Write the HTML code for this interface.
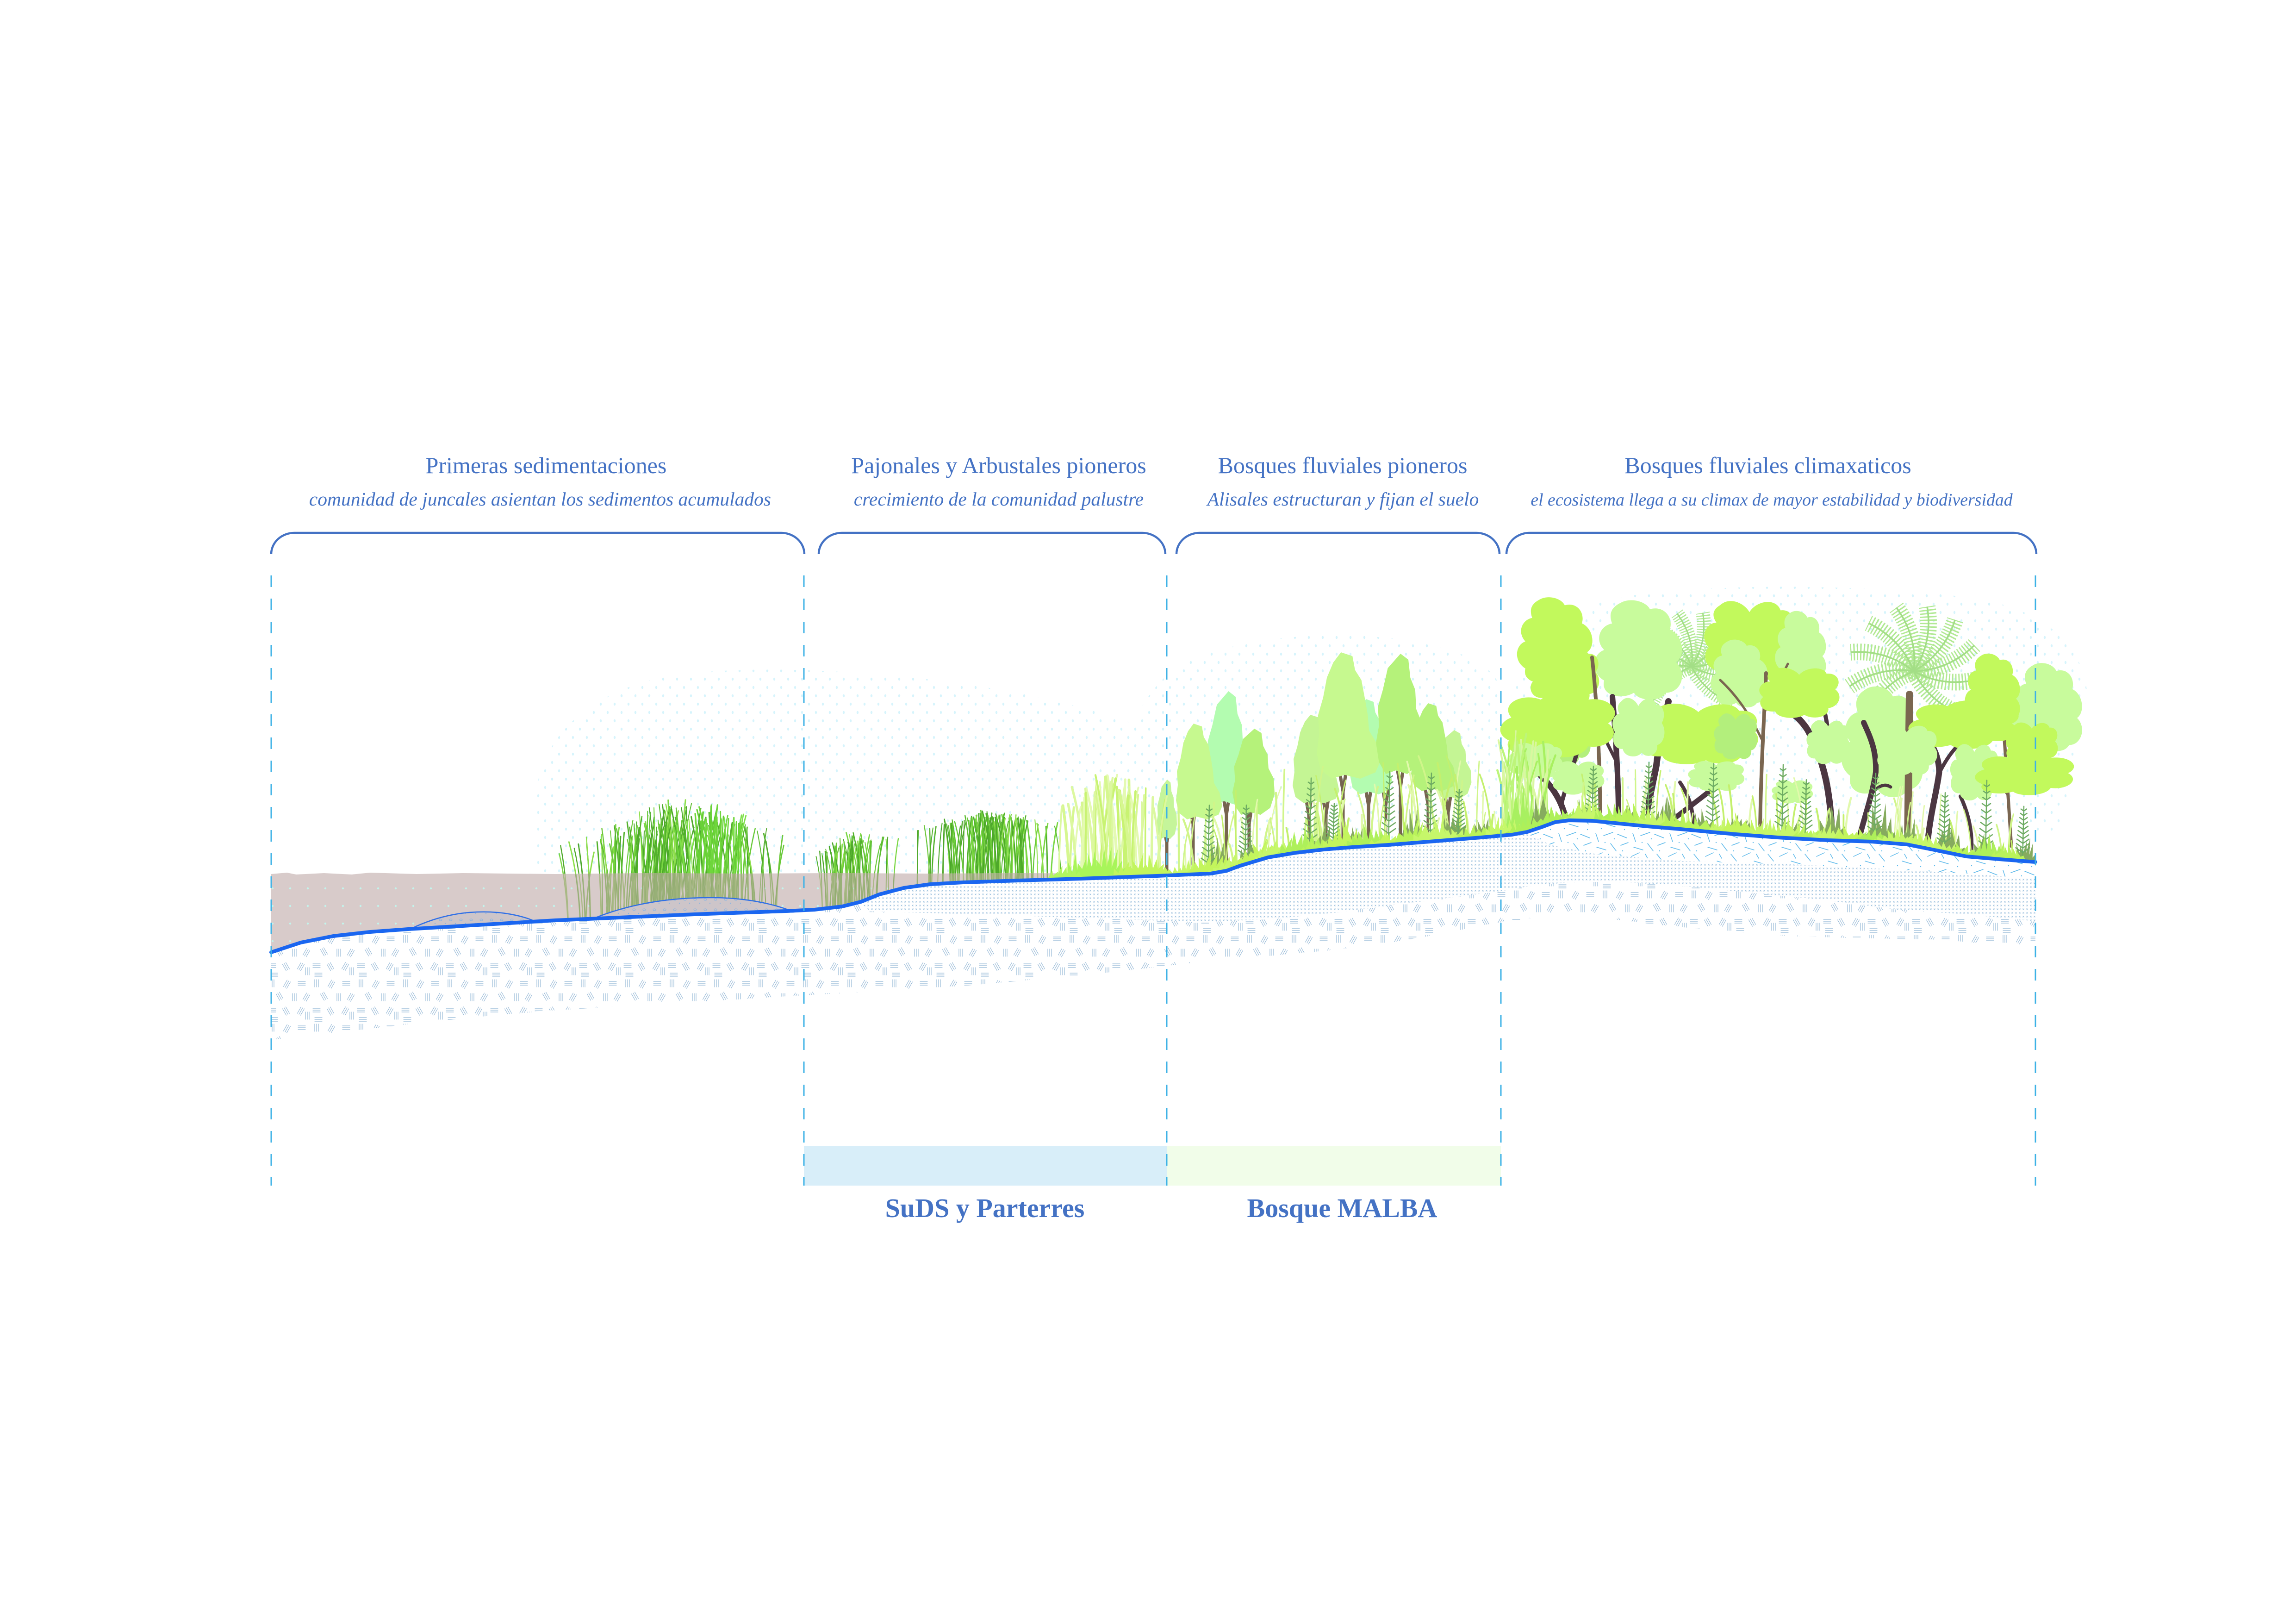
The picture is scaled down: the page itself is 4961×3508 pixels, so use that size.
<!DOCTYPE html>
<html><head><meta charset="utf-8">
<style>
html,body{margin:0;padding:0;background:#fff;width:4961px;height:3508px;overflow:hidden}
svg{display:block}
.t{font-family:"Liberation Serif","Times New Roman",serif;fill:#4472c4}
</style></head><body>
<svg xmlns="http://www.w3.org/2000/svg" width="4961" height="3508" viewBox="0 0 4961 3508">
<defs>
<pattern id="hatch" width="96" height="96" patternUnits="userSpaceOnUse">
<path d="M8,4V20M12,4V20M16,4V20 M36.5,19L44.5,5M40,21L48,7M43.5,23L51.5,9 M68,8H84M68,12H84M68,16H84 M20.5,35L28.5,49M24,33L32,47M27.5,31L35.5,45 M56,34V50M60,34V50M64,34V50 M78.5,47L86.5,33M82,49L90,35M85.5,51L93.5,37 M4,66H20M4,70H20M4,74H20 M34.5,67L42.5,81M38,65L46,79M41.5,63L49.5,77 M66.5,77L74.5,63M70,79L78,65M73.5,81L81.5,67 M84,74V90M88,74V90M92,74V90 M8,86H24M8,90H24M8,94H24" stroke="#92b6d5" stroke-width="1.15" fill="none" stroke-linecap="round"/>
</pattern>
<pattern id="xpat" width="8" height="8" patternUnits="userSpaceOnUse">
<path d="M2.5,2.5L5.5,5.5M5.5,2.5L2.5,5.5" stroke="#9fc2de" stroke-width="1" fill="none"/>
</pattern>
<pattern id="dpat" width="80" height="80" patternUnits="userSpaceOnUse">
<path d="M5,10L22,2M30,20L50,26M60,5L72,20M8,40L14,58M25,45L45,38M55,42L75,50M10,70L30,76M40,62L52,78M62,66L78,60M35,5L40,14" stroke="#5db9ea" stroke-width="1.5" fill="none" stroke-linecap="round"/>
<circle cx="20" cy="30" r="1.2" fill="#5db9ea"/><circle cx="48" cy="52" r="1.2" fill="#5db9ea"/><circle cx="70" cy="32" r="1.2" fill="#5db9ea"/><circle cx="28" cy="60" r="1.2" fill="#5db9ea"/><circle cx="66" cy="78" r="1.2" fill="#5db9ea"/>
</pattern>
<pattern id="sky" width="30" height="36" patternUnits="userSpaceOnUse">
<ellipse cx="8" cy="9" rx="2.2" ry="3.2" fill="#d6f4fc"/><ellipse cx="23" cy="27" rx="2.2" ry="3.2" fill="#d6f4fc"/>
</pattern>
<pattern id="wdots" width="38" height="38" patternUnits="userSpaceOnUse">
<circle cx="19" cy="19" r="2.2" fill="#c2f4ec"/>
</pattern>
<pattern id="mdots" width="22" height="22" patternUnits="userSpaceOnUse">
<ellipse cx="6" cy="7" rx="3" ry="2" stroke="#86b4e4" stroke-width="1" fill="none"/><circle cx="16" cy="15" r="1.2" fill="#86b4e4"/>
</pattern>
<clipPath id="wclip"><path d="M586,1888 L620,1885 L640,1889 L700,1886 L760,1889 L800,1885 L900,1888 L1000,1886 L1200,1888 L1400,1886 L1600,1887 L1800,1886 L2000,1887 L2200,1886 L2400,1887 L2640,1887 L2640,1900 L1900,1980 L586,2080 Z"/></clipPath>
<path id="col1" d="M38,0 L56,3 L60,14 L70,22 L76,38 L80,50 L82,62 L94,72 L100,86 L92,95 L68,100 L44,97 L24,100 L6,93 L0,80 L4,64 L2,50 L10,36 L16,20 L26,8 Z"/>
<path id="col2" d="M52,0 L68,5 L72,20 L82,30 L84,46 L96,58 L98,76 L88,92 L66,100 L42,97 L22,100 L8,90 L2,74 L8,60 L6,44 L16,30 L26,12 Z"/>
<path id="blA" d="M20,10 C30,0 45,8 50,18 C58,4 78,2 82,16 C96,14 100,34 92,44 C102,56 96,76 84,78 C86,94 66,100 56,90 C46,100 24,96 22,84 C6,86 0,68 8,58 C-2,46 6,30 16,30 C10,20 14,14 20,10 Z"/>
<path id="blB" d="M30,4 C40,-2 56,2 60,10 C74,6 84,18 80,30 C94,36 96,56 86,62 C98,72 92,92 76,92 C70,102 48,100 44,92 C30,100 10,94 14,80 C0,72 2,54 14,50 C4,40 10,26 22,24 C18,14 22,8 30,4 Z"/>
<path id="blC" d="M10,40 C0,20 20,5 35,15 C45,0 70,0 75,15 C95,10 105,35 92,48 C104,62 92,85 75,80 C70,98 45,100 38,88 C22,98 2,88 8,72 C-4,62 0,46 10,40 Z"/>
<path id="frond" d="M0,0 Q30,-55 14,-118" fill="none" stroke-width="30" stroke-dasharray="2.5 3.5"/>
<path id="rib" d="M0,0 Q30,-55 14,-118" fill="none" stroke-width="3"/>
</defs>

<rect width="4961" height="3508" fill="#ffffff"/>

<!-- faint sky dots -->
<path d="M1150,1990 L1160,1700 C1180,1580 1280,1500 1420,1465 C1600,1430 1900,1450 2100,1480 C2300,1510 2480,1560 2560,1620 L2600,1890 Z" fill="url(#sky)"/>
<path d="M2380,1900 C2380,1700 2440,1500 2560,1430 C2700,1370 2900,1360 3050,1385 C3150,1400 3243,1440 3243,1500 L3243,1830 Z" fill="url(#sky)"/>
<path d="M3243,1700 C3250,1450 3300,1330 3500,1290 C3700,1260 4000,1260 4250,1290 C4400,1310 4500,1380 4510,1500 L4450,1800 Z" fill="url(#sky)"/>

<!-- pioneer trunks -->
<g fill="none" stroke="#76654f" stroke-width="7" stroke-linecap="round" stroke-linejoin="round">
<path d="M2521,1893 L2521,1820 L2515,1790 M2521,1820 L2527,1790"/>
<path d="M2578,1890 L2578,1780 L2571,1740 M2578,1780 L2584,1740"/>
<path d="M2650,1882 L2650,1760 L2643,1720 M2650,1760 L2656,1720"/>
<path d="M2699,1868 L2699,1780 L2692,1740 M2699,1780 L2705,1740"/>
<path d="M2828,1845 L2828,1760 L2821,1720 M2828,1760 L2834,1720"/>
<path d="M2865,1840 L2865,1760 L2858,1720 M2865,1760 L2871,1720"/>
<path d="M2902,1835 L2902,1710 L2895,1670 M2902,1710 L2908,1670"/>
<path d="M2957,1831 L2957,1740 L2950,1700 M2957,1740 L2963,1700"/>
<path d="M2994,1828 L2994,1740 L2987,1700 M2994,1740 L3000,1700"/>
<path d="M3026,1826 L3026,1700 L3019,1660 M3026,1700 L3032,1660"/>
<path d="M3086,1821 L3086,1740 L3079,1700 M3086,1740 L3092,1700"/>
<path d="M3129,1818 L3129,1755 L3122,1715 M3129,1755 L3135,1715"/>
</g>
<!-- pioneer canopies -->
<use href="#col2" transform="translate(2604,1493) scale(0.97,2.45)" fill="#b3fcb0"/>
<use href="#col1" transform="translate(2917,1510) scale(0.91,2.06)" fill="#b3fcb0"/>
<use href="#col2" transform="translate(3100,1577) scale(0.81,1.49)" fill="#c4f594"/>
<use href="#col1" transform="translate(2793,1544) scale(1.01,1.91)" fill="#c4f594"/>
<use href="#col2" transform="translate(2498,1684) scale(0.46,1.28)" fill="#c5f59a"/>
<use href="#col1" transform="translate(2541,1563) scale(1,2.07)" fill="#c6f98f"/>
<use href="#col2" transform="translate(2661,1574) scale(0.95,1.86)" fill="#b5f27a"/>
<use href="#col1" transform="translate(2845,1409) scale(1.38,2.73)" fill="#c6f98f"/>
<use href="#col2" transform="translate(2971,1412) scale(1.06,2.6)" fill="#b5f27a"/>
<use href="#col1" transform="translate(3049,1519) scale(0.97,1.9)" fill="#b5f27a"/>

<!-- palms (feathery) -->
<g stroke="#b2e994">
<g transform="translate(3655,1440)">
<use href="#frond" transform="rotate(-110)"/><use href="#frond" transform="rotate(-80)"/><use href="#frond" transform="rotate(-50)"/><use href="#frond" transform="rotate(-22)"/><use href="#frond" transform="rotate(5)"/><use href="#frond" transform="rotate(32)"/><use href="#frond" transform="rotate(60)"/><use href="#frond" transform="rotate(90)"/><use href="#frond" transform="rotate(125)"/><use href="#frond" transform="rotate(-140)"/>
</g>
<g transform="translate(4135,1450) scale(1.2)">
<use href="#frond" transform="rotate(-110)"/><use href="#frond" transform="rotate(-80)"/><use href="#frond" transform="rotate(-50)"/><use href="#frond" transform="rotate(-22)"/><use href="#frond" transform="rotate(5)"/><use href="#frond" transform="rotate(32)"/><use href="#frond" transform="rotate(60)"/><use href="#frond" transform="rotate(90)"/><use href="#frond" transform="rotate(125)"/><use href="#frond" transform="rotate(-140)"/>
</g>
</g>
<g stroke="#a3de86">
<g transform="translate(3655,1440)">
<use href="#rib" transform="rotate(-110)"/><use href="#rib" transform="rotate(-80)"/><use href="#rib" transform="rotate(-50)"/><use href="#rib" transform="rotate(-22)"/><use href="#rib" transform="rotate(5)"/><use href="#rib" transform="rotate(32)"/><use href="#rib" transform="rotate(60)"/><use href="#rib" transform="rotate(90)"/><use href="#rib" transform="rotate(125)"/><use href="#rib" transform="rotate(-140)"/>
</g>
<g transform="translate(4135,1450) scale(1.2)">
<use href="#rib" transform="rotate(-110)"/><use href="#rib" transform="rotate(-80)"/><use href="#rib" transform="rotate(-50)"/><use href="#rib" transform="rotate(-22)"/><use href="#rib" transform="rotate(5)"/><use href="#rib" transform="rotate(32)"/><use href="#rib" transform="rotate(60)"/><use href="#rib" transform="rotate(90)"/><use href="#rib" transform="rotate(125)"/><use href="#rib" transform="rotate(-140)"/>
</g>
</g>

<!-- climax back canopies -->
<use href="#blC" transform="translate(3330,1540) scale(1.1,1.2)" fill="#b3ef7c"/>
<use href="#blB" transform="translate(3270,1288) scale(1.85,1.95)" fill="#c2f95c"/>
<use href="#blA" transform="translate(3675,1288) scale(2.1,1.9)" fill="#c2f95c"/>
<use href="#blB" transform="translate(3436,1294) scale(2.15,2.2)" fill="#c8fb9c"/>
<use href="#blB" transform="translate(3830,1318) scale(1.25,1.6)" fill="#c8fb9c"/>
<use href="#blB" transform="translate(3970,1480) scale(2.0,2.45)" fill="#c8fb9c"/>
<use href="#blB" transform="translate(4340,1430) scale(1.72,1.95)" fill="#c8fb9c"/>
<use href="#blA" transform="translate(3300,1390) scale(1.6,1.4)" fill="#c2f95c"/>
<use href="#blB" transform="translate(3690,1380) scale(1.4,1.5)" fill="#c8fb9c"/>

<!-- climax trunks -->
<g fill="none" stroke="#7a6650" stroke-linecap="round">
<path d="M3458,1778 C3457,1650 3452,1530 3440,1420" stroke-width="8"/>
<path d="M3803,1792 C3805,1650 3812,1550 3816,1454" stroke-width="8"/>
<path d="M3808,1600 C3780,1540 3750,1500 3717,1469" stroke-width="5"/>
<path d="M3812,1540 C3830,1500 3850,1460 3863,1434" stroke-width="5"/>
<path d="M4346,1828 C4340,1750 4335,1650 4328,1556" stroke-width="7"/>
<path d="M4340,1720 C4320,1690 4300,1680 4270,1650" stroke-width="5"/>
<path d="M4342,1700 C4370,1670 4390,1655 4410,1640" stroke-width="5"/>
<path d="M4122,1822 L4126,1500" stroke-width="16"/>
</g>
<g fill="none" stroke="#4b3641" stroke-linecap="round">
<path d="M3385,1782 C3380,1740 3358,1700 3321,1668" stroke-width="13"/>
<path d="M3374,1735 C3386,1690 3398,1660 3407,1627" stroke-width="9"/>
<path d="M3497,1782 C3498,1700 3492,1600 3484,1505" stroke-width="12"/>
<path d="M3490,1640 C3470,1600 3455,1570 3440,1540" stroke-width="7"/>
<path d="M3553,1786 C3560,1740 3572,1690 3579,1653 C3585,1600 3598,1550 3605,1515" stroke-width="14"/>
<path d="M3600,1782 C3640,1750 3675,1725 3700,1704" stroke-width="11"/>
<path d="M3958,1797 C3955,1720 3945,1650 3906,1577 C3895,1560 3885,1550 3872,1541" stroke-width="14"/>
<path d="M3940,1640 C3955,1600 3950,1570 3941,1531" stroke-width="9"/>
<path d="M4018,1807 C4030,1760 4045,1720 4053,1668 C4055,1620 4040,1590 4027,1561" stroke-width="12"/>
<path d="M4040,1720 C4055,1700 4070,1690 4085,1700" stroke-width="7"/>
<path d="M4165,1822 C4170,1760 4185,1710 4190,1668 C4190,1640 4180,1620 4173,1607" stroke-width="13"/>
<path d="M4190,1670 C4205,1640 4220,1620 4234,1607" stroke-width="8"/>
<path d="M3658,1788 C3660,1750 3650,1720 3630,1690" stroke-width="8"/>
<path d="M4260,1835 C4262,1790 4250,1750 4236,1720" stroke-width="8"/>
</g>

<!-- climax front canopies -->
<use href="#blA" transform="translate(3795,1436) scale(1.85,1.2)" fill="#c2f95c"/>
<use href="#blC" transform="translate(3240,1488) scale(2.55,1.55)" fill="#c2f95c"/>
<use href="#blA" transform="translate(3532,1512) scale(2.75,1.45)" fill="#c2f95c"/>
<use href="#blB" transform="translate(4240,1410) scale(1.35,1.6)" fill="#c2f95c"/>
<use href="#blC" transform="translate(4122,1508) scale(2.45,1.15)" fill="#c2f95c"/>
<use href="#blA" transform="translate(3480,1500) scale(1.2,1.4)" fill="#c8fb9c"/>
<use href="#blA" transform="translate(3700,1535) scale(1.0,1.1)" fill="#b3ef7c"/>
<use href="#blA" transform="translate(3900,1550) scale(1.0,1.05)" fill="#c8fb9c"/>
<use href="#blA" transform="translate(4050,1560) scale(1.4,1.2)" fill="#c8fb9c"/>
<use href="#blA" transform="translate(3255,1600) scale(1.25,0.85)" fill="#c8fb9c"/>
<use href="#blA" transform="translate(3350,1640) scale(1.2,0.8)" fill="#c8fb9c"/>
<use href="#blA" transform="translate(3643,1640) scale(1.3,0.72)" fill="#c8fb9c"/>
<use href="#blA" transform="translate(3825,1682) scale(0.95,0.56)" fill="#c8fb9c"/>
<use href="#blA" transform="translate(4210,1600) scale(1.12,1.35)" fill="#c8fb9c"/>
<use href="#blA" transform="translate(4330,1555) scale(1.2,1.05)" fill="#c2f95c"/>
<use href="#blC" transform="translate(4266,1622) scale(2.2,1.0)" fill="#c2f95c"/>

<!-- reeds (bright) -->
<g id="reedsA"></g>
<!-- water -->
<path d="M586,1888 L620,1885 L640,1889 L700,1886 L760,1889 L800,1885 L900,1888 L1000,1886 L1200,1888 L1400,1886 L1600,1887 L1800,1886 L2000,1887 L2200,1886 L2400,1887 L2640,1887 L2640,1900 L1900,1980 L586,2080 Z" fill="#d8cbca"/>
<path d="M586,1888 L2640,1887 L2640,1900 L1900,1980 L586,2080 Z" fill="url(#wdots)"/>
<g id="reedsB" clip-path="url(#wclip)"></g>
<!-- ground vegetation -->
<g id="veg"></g>

<!-- soil -->
<path d="M586,2057 L650,2036 L720,2022 L800,2013 L882,2007 L1000,2000 L1100,1994 L1200,1988 L1315,1983 L1500,1975 L1698,1968 L1760,1965 L1820,1958 L1860,1948 L1900,1932 L1953,1918 L2010,1910 L2081,1906 L2200,1902 L2336,1898 L2500,1892 L2616,1887 L2650,1881 L2680,1870 L2740,1852 L2800,1842 L2860,1835 L2922,1830 L3000,1825 L3101,1817 L3200,1809 L3267,1803 L3300,1797 L3330,1787 L3360,1776 L3390,1772 L3440,1773 L3470,1776 L3560,1785 L3631,1791 L3750,1802 L3841,1809 L3950,1815 L4045,1818 L4120,1824 L4180,1836 L4249,1850 L4320,1856 L4398,1862 L4398,2050 L4300,2040 L4200,2030 L4000,2026 L3866,2022 L3700,2008 L3611,2001 L3480,1985 L3400,1975 L3356,1973 L3300,1985 L3229,1994 L3100,2020 L2950,2045 L2800,2060 L2591,2078 L2450,2095 L2300,2110 L2100,2128 L1902,2141 L1700,2152 L1500,2165 L1300,2176 L1188,2183 L1050,2195 L900,2210 L750,2228 L586,2246 Z" fill="#ffffff"/>
<path d="M586,2057 L650,2036 L720,2022 L800,2013 L882,2007 L1000,2000 L1100,1994 L1200,1988 L1315,1983 L1500,1975 L1698,1968 L1760,1965 L1820,1958 L1860,1948 L1900,1932 L1953,1918 L2010,1910 L2081,1906 L2200,1902 L2336,1898 L2500,1892 L2616,1887 L2650,1881 L2680,1870 L2740,1852 L2800,1842 L2860,1835 L2922,1830 L3000,1825 L3101,1817 L3200,1809 L3267,1803 L3300,1797 L3330,1787 L3360,1776 L3390,1772 L3440,1773 L3470,1776 L3560,1785 L3631,1791 L3750,1802 L3841,1809 L3950,1815 L4045,1818 L4120,1824 L4180,1836 L4249,1850 L4320,1856 L4398,1862 L4398,2050 L4300,2040 L4200,2030 L4000,2026 L3866,2022 L3700,2008 L3611,2001 L3480,1985 L3400,1975 L3356,1973 L3300,1985 L3229,1994 L3100,2020 L2950,2045 L2800,2060 L2591,2078 L2450,2095 L2300,2110 L2100,2128 L1902,2141 L1700,2152 L1500,2165 L1300,2176 L1188,2183 L1050,2195 L900,2210 L750,2228 L586,2246 Z" fill="url(#hatch)"/>
<!-- x layer -->
<path d="M1860,1951 L1900,1935 L1953,1921 L2010,1913 L2081,1909 L2200,1905 L2336,1901 L2500,1895 L2616,1890 L2650,1884 L2680,1873 L2740,1855 L2800,1845 L2860,1838 L2922,1833 L3000,1828 L3101,1820 L3200,1812 L3267,1806 L3300,1800 L3330,1790 L3360,1779 L3390,1775 L3440,1776 L3470,1779 L3560,1788 L3631,1794 L3750,1805 L3841,1812 L3950,1818 L4045,1821 L4120,1827 L4180,1839 L4249,1853 L4320,1859 L4398,1865 L4398,1990 L4250,1975 L4100,1965 L3950,1945 L3800,1930 L3650,1915 L3500,1905 L3400,1905 L3300,1915 L3243,1925 L3050,1950 L2900,1970 L2750,1985 L2600,1992 L2400,1985 L2200,1978 L2000,1972 L1880,1968 Z" fill="#ffffff"/>
<path d="M1860,1951 L1900,1935 L1953,1921 L2010,1913 L2081,1909 L2200,1905 L2336,1901 L2500,1895 L2616,1890 L2650,1884 L2680,1873 L2740,1855 L2800,1845 L2860,1838 L2922,1833 L3000,1828 L3101,1820 L3200,1812 L3267,1806 L3300,1800 L3330,1790 L3360,1779 L3390,1775 L3440,1776 L3470,1779 L3560,1788 L3631,1794 L3750,1805 L3841,1812 L3950,1818 L4045,1821 L4120,1827 L4180,1839 L4249,1853 L4320,1859 L4398,1865 L4398,1990 L4250,1975 L4100,1965 L3950,1945 L3800,1930 L3650,1915 L3500,1905 L3400,1905 L3300,1915 L3243,1925 L3050,1950 L2900,1970 L2750,1985 L2600,1992 L2400,1985 L2200,1978 L2000,1972 L1880,1968 Z" fill="url(#xpat)"/>
<!-- dash layer section 4 -->
<path d="M3300,1800 L3330,1790 L3360,1779 L3390,1775 L3440,1776 L3470,1779 L3560,1788 L3631,1794 L3750,1805 L3841,1812 L3950,1818 L4045,1821 L4120,1827 L4180,1839 L4249,1853 L4320,1859 L4398,1865 L4398,1898 L4200,1884 L3900,1868 L3631,1860 L3450,1845 L3350,1825 Z" fill="#ffffff"/>
<path d="M3300,1800 L3330,1790 L3360,1779 L3390,1775 L3440,1776 L3470,1779 L3560,1788 L3631,1794 L3750,1805 L3841,1812 L3950,1818 L4045,1821 L4120,1827 L4180,1839 L4249,1853 L4320,1859 L4398,1865 L4398,1898 L4200,1884 L3900,1868 L3631,1860 L3450,1845 L3350,1825 Z" fill="url(#dpat)"/>

<!-- sediment mounds -->
<path d="M882,2009 C950,1975 1010,1968 1060,1970 C1100,1972 1135,1980 1160,1992 Z" fill="#cdc5c9"/>
<path d="M882,2009 C950,1975 1010,1968 1060,1970 C1100,1972 1135,1980 1160,1992 Z" fill="url(#mdots)" stroke="#2f6fe6" stroke-width="2.5"/>
<path d="M1280,1985 C1360,1952 1450,1938 1545,1939 C1620,1940 1680,1955 1715,1970 Z" fill="#cdc5c9"/>
<path d="M1280,1985 C1360,1952 1450,1938 1545,1939 C1620,1940 1680,1955 1715,1970 Z" fill="url(#mdots)" stroke="#2f6fe6" stroke-width="2.5"/>

<!-- ground line -->
<path d="M586,2057 L650,2036 L720,2022 L800,2013 L882,2007 L1000,2000 L1100,1994 L1200,1988 L1315,1983 L1500,1975 L1698,1968 L1760,1965 L1820,1958 L1860,1948 L1900,1932 L1953,1918 L2010,1910 L2081,1906 L2200,1902 L2336,1898 L2500,1892 L2616,1887 L2650,1881 L2680,1870 L2740,1852 L2800,1842 L2860,1835 L2922,1830 L3000,1825 L3101,1817 L3200,1809 L3267,1803 L3300,1797 L3330,1787 L3360,1776 L3390,1772 L3440,1773 L3470,1776 L3560,1785 L3631,1791 L3750,1802 L3841,1809 L3950,1815 L4045,1818 L4120,1824 L4180,1836 L4249,1850 L4320,1856 L4398,1862" fill="none" stroke="#1a66f0" stroke-width="8" stroke-linejoin="round" stroke-linecap="round"/>

<!-- bottom band rects -->
<rect x="1737" y="2475" width="784" height="86" fill="#d8eef9"/>
<rect x="2521" y="2475" width="722" height="86" fill="#f1fde9"/>

<!-- brackets -->
<g fill="none" stroke="#4472c4" stroke-width="4.5">
<path d="M586,1197 A50,46 0 0 1 636,1151 H1688 A50,46 0 0 1 1738,1197"/>
<path d="M1769,1197 A50,46 0 0 1 1819,1151 H2468 A50,46 0 0 1 2518,1197"/>
<path d="M2542,1197 A50,46 0 0 1 2592,1151 H3190 A50,46 0 0 1 3240,1197"/>
<path d="M3255,1197 A50,46 0 0 1 3305,1151 H4350 A50,46 0 0 1 4400,1197"/>
</g>

<!-- titles -->
<text class="t" x="1180" y="1022" font-size="50" text-anchor="middle">Primeras sedimentaciones</text>
<text class="t" x="2158" y="1022" font-size="50" text-anchor="middle">Pajonales y Arbustales pioneros</text>
<text class="t" x="2901" y="1022" font-size="50" text-anchor="middle">Bosques fluviales pioneros</text>
<text class="t" x="3820" y="1022" font-size="50" text-anchor="middle">Bosques fluviales climaxaticos</text>
<text class="t" x="1167" y="1092" font-size="41.5" font-style="italic" text-anchor="middle">comunidad de juncales asientan los sedimentos acumulados</text>
<text class="t" x="2158" y="1092" font-size="41.5" font-style="italic" text-anchor="middle">crecimiento de la comunidad palustre</text>
<text class="t" x="2902" y="1092" font-size="41.5" font-style="italic" text-anchor="middle">Alisales estructuran y fijan el suelo</text>
<text class="t" x="3828" y="1092" font-size="37.8" font-style="italic" text-anchor="middle">el ecosistema llega a su climax de mayor estabilidad y biodiversidad</text>

<text class="t" x="2128" y="2629" font-size="58" font-weight="bold" text-anchor="middle">SuDS y Parterres</text>
<text class="t" x="2900" y="2629" font-size="58" font-weight="bold" text-anchor="middle">Bosque MALBA</text>

<!-- dashed dividers -->
<g stroke="#3db2e6" stroke-width="3" stroke-dasharray="25 25">
<line x1="586" y1="1243" x2="586" y2="2561"/>
<line x1="1737" y1="1243" x2="1737" y2="2561"/>
<line x1="2521" y1="1243" x2="2521" y2="2561"/>
<line x1="3243" y1="1243" x2="3243" y2="2561"/>
<line x1="4398" y1="1243" x2="4398" y2="2561"/>
</g>
</svg>
<script>
(function(){
var NS="http://www.w3.org/2000/svg";
var s=20240611;
function r(){s=(s*16807)%2147483647;return (s-1)/2147483646;}
var GP=[[586,2057],[650,2036],[720,2022],[800,2013],[882,2007],[1000,2000],[1100,1994],[1200,1988],[1315,1983],[1500,1975],[1698,1968],[1760,1965],[1820,1958],[1860,1948],[1900,1932],[1953,1918],[2010,1910],[2081,1906],[2200,1902],[2336,1898],[2500,1892],[2616,1887],[2650,1881],[2680,1870],[2740,1852],[2800,1842],[2860,1835],[2922,1830],[3000,1825],[3101,1817],[3200,1809],[3267,1803],[3300,1797],[3330,1787],[3360,1776],[3390,1772],[3440,1773],[3470,1776],[3560,1785],[3631,1791],[3750,1802],[3841,1809],[3950,1815],[4045,1818],[4120,1824],[4180,1836],[4249,1850],[4320,1856],[4398,1862]];
function gy(x){if(x<=GP[0][0])return GP[0][1];for(var i=1;i<GP.length;i++){if(x<=GP[i][0]){var a=GP[i-1],b=GP[i];return a[1]+(b[1]-a[1])*(x-a[0])/(b[0]-a[0]);}}return GP[GP.length-1][1];}
function el(t,at,p){var e=document.createElementNS(NS,t);for(var k in at)e.setAttribute(k,at[k]);p.appendChild(e);return e;}
function pick(a){return a[Math.floor(r()*a.length)];}
function f(n){return n.toFixed(1);}
var A=document.getElementById('reedsA'),B=document.getElementById('reedsB'),V=document.getElementById('veg');
var MUT=['#98b077','#9fb47c','#a9b985','#93ad72'];
function reeds(x1,x2,n,hmin,hmax,cols,wmin,wmax,p,muted){
 for(var i=0;i<n;i++){
  var t=(r()+r())/2,x=x1+(x2-x1)*t,c=1-Math.abs(t-0.5)*2;
  var h=hmin+(hmax-hmin)*(0.35+0.65*c)*(0.55+0.45*r());
  var lean=(r()-0.5)*h*0.3,y0=gy(x)+5;
  var d='M'+f(x)+','+f(y0)+'Q'+f(x+lean*0.15)+','+f(y0-h*0.55)+' '+f(x+lean)+','+f(y0-h);
  var w=f(wmin+(wmax-wmin)*r());
  el('path',{d:d,stroke:pick(cols),'stroke-width':w,fill:'none','stroke-linecap':'round'},p);
  if(muted)el('path',{d:d,stroke:pick(MUT),'stroke-width':w,fill:'none','stroke-linecap':'round'},B);
 }
}
function blades(x1,x2,n,hmin,hmax,cols,wmin,wmax,p){
 for(var i=0;i<n;i++){
  var x=x1+(x2-x1)*r(),h=hmin+(hmax-hmin)*r(),lean=(r()-0.5)*h*0.4,y0=gy(x)+5;
  var d='M'+f(x)+','+f(y0)+'Q'+f(x+lean*0.1)+','+f(y0-h*0.6)+' '+f(x+lean)+','+f(y0-h);
  el('path',{d:d,stroke:pick(cols),'stroke-width':f(wmin+(wmax-wmin)*r()),fill:'none','stroke-linecap':'round'},p);
 }
}
function tuft(cx,w,h,col,n,p){
 var x0=cx-w/2,d='M'+f(x0)+','+f(gy(x0)+8);
 for(var k=0;k<n;k++){
  var px=x0+w*(k+0.5)/n,q=(px-cx)/(w/2),prof=Math.max(0.12,1-q*q);
  var th=h*(0.45+0.55*r())*prof,tx=px+(r()-0.5)*w/n*1.6;
  d+=' L'+f(tx)+','+f(gy(px)-th);
  var vx=x0+w*(k+1)/n,q2=(vx-cx)/(w/2),vp=Math.max(0,1-q2*q2);
  d+=' L'+f(vx)+','+f(gy(vx)-h*0.3*vp);
 }
 d+=' L'+f(cx+w/2)+','+f(gy(cx+w/2)+8)+' Z';
 el('path',{d:d,fill:col},p);
}
function fern(x,h,p){
 var y0=gy(x)+2,d='M'+f(x)+','+f(y0)+' L'+f(x+3)+','+f(y0-h);
 for(var k=2;k<12;k++){var yy=y0-h*k/12,L=14*(1-k/14)+3,xx=x+3*k/12;
  d+=' M'+f(xx)+','+f(yy)+' l'+f(-L)+','+f(-L*0.7)+' M'+f(xx)+','+f(yy)+' l'+f(L)+','+f(-L*0.7);}
 el('path',{d:d,stroke:'#6dab62','stroke-width':'2.5',fill:'none','stroke-linecap':'round'},p);
}
var reedC=['#4aa828','#52b12c','#5cbd31','#68c938','#78d642','#4ea82a','#8ddf4b','#6cc83a'];
reeds(1197,1719,160,100,260,reedC,1.8,3.0,A,true);
reeds(1440,1640,35,160,245,['#6fd63c','#7ee04a','#66cf35'],2.5,3.5,A,true);
reeds(1748,1935,60,90,165,reedC,1.8,3.0,A,true);
reeds(1965,2297,115,105,160,reedC,1.8,3.0,A,true);
// section 2 right: pale plume grasses and bushes
reeds(2280,2530,55,120,240,['#e4fab2','#d6f790','#c8f372','#dcf8a0'],3.5,6.5,V,false);
tuft(2370,170,80,'#a8f55a',16,V);
tuft(2470,150,60,'#c2f55e',14,V);
tuft(2300,90,40,'#b0f560',9,V);
// light grasses sections 3-4
blades(2540,3240,80,50,190,['#e2f9ac','#d0f58a','#c4f06e'],2.5,4.5,V);
blades(3340,4390,60,40,140,['#e2f9ac','#d0f58a','#c4f06e'],2.5,4.5,V);
blades(3245,3345,45,80,230,['#a8f060','#bdf57a','#d9f7a0'],3,5,V);
tuft(3290,110,110,'#a8f060',11,V);
// dull shrubs
var shr=[[2630,50,90],[2700,45,70],[2860,50,70],[2925,40,60],[3050,50,80],[3140,55,90],[3205,40,60],[3330,50,80],[3420,45,60],[3520,50,70],[3600,55,80],[3680,45,60],[3760,50,70],[3860,45,60],[3960,60,90],[4060,60,100],[4125,45,70],[4210,55,80],[4290,50,70],[4375,36,60]];
shr.forEach(function(a){tuft(a[0],a[1]*1.3,a[2],'#86ab5e',7,V);});
// ferns
[[2610,150],[2690,130],[2830,160],[2880,100],[3000,160],[3090,150],[3150,110],[3440,120],[3560,140],[3700,150],[3850,160],[3900,130],[4050,150],[4200,130],[4290,170],[4370,120]].forEach(function(a){fern(a[0],a[1],V);});
// bright ground tufts
for(var x=2570;x<=4350;x+=48){
 tuft(x+(r()-0.5)*20,90+40*r(),28+32*r(),pick(['#c3f55c','#b9f35a','#aef05a','#c6f76a']),10,V);
}
})();
</script>
</body></html>
